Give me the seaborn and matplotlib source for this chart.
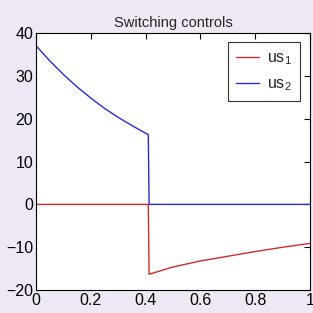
import matplotlib
matplotlib.use("Agg")
import matplotlib.pyplot as plt
import seaborn as sns
import pandas as pd

# data
t_us2 = [0.0, 0.05, 0.10, 0.15, 0.20, 0.25, 0.30, 0.35, 0.40, 0.41, 0.413, 0.6, 0.8, 1.0]
us2 = [37.0, 33.5, 30.3, 27.4, 24.8, 22.4, 20.3, 18.4, 16.6, 16.3, 0.0, 0.0, 0.0, 0.0]
t_us1 = [0.0, 0.2, 0.41, 0.413, 0.5, 0.6, 0.7, 0.8, 0.9, 1.0]
us1 = [0.0, 0.0, 0.0, -16.3, -14.6, -13.2, -12.1, -11.0, -10.0, -9.1]

title = "Switching controls"
labels = ["us$_1$", "us$_2$"]
xticks = [0, 0.2, 0.4, 0.6, 0.8, 1]
yticks = [-20, -10, 0, 10, 20, 30, 40]

sns.set_style("white")
plt.rcParams['font.family'] = ['Liberation Sans', 'DejaVu Sans']
plt.rcParams['mathtext.fontset'] = 'custom'
plt.rcParams['mathtext.rm'] = 'Liberation Sans'
plt.rcParams['mathtext.it'] = 'Liberation Sans'

fig = plt.figure(figsize=(3.13, 3.13), dpi=100)
fig.patch.set_facecolor("#EEE7F4")
ax = fig.add_axes([0.115, 0.073, 0.875, 0.822])

df1 = pd.DataFrame({"t": t_us1, "v": us1, "s": labels[0]})
df2 = pd.DataFrame({"t": t_us2, "v": us2, "s": labels[1]})
sns.lineplot(data=df1, x="t", y="v", color="#d42a2a", lw=1.0, sort=False,
             estimator=None, ax=ax, label=labels[0])
sns.lineplot(data=df2, x="t", y="v", color="#2a2ad4", lw=1.0, sort=False,
             estimator=None, ax=ax, label=labels[1])

ax.set_xlim(0, 1)
ax.set_ylim(-20, 40)
ax.set_xticks(xticks)
ax.set_xticklabels(["0", "0.2", "0.4", "0.6", "0.8", "1"])
ax.set_yticks(yticks)
ax.set_xlabel("")
ax.set_ylabel("")
ax.set_title(title, fontsize=10.5, pad=4)
ax.tick_params(direction="in", top=True, right=True, length=4, width=0.8,
               labelsize=11.5, pad=2, colors="black")
for sp in ax.spines.values():
    sp.set_color("black")
    sp.set_linewidth(0.8)

leg = ax.legend(loc="upper right", fontsize=11.5, frameon=True, fancybox=False,
                handlelength=1.5, handletextpad=0.5, borderaxespad=0.6,
                borderpad=0.5, labelspacing=0.6)
leg.get_frame().set_edgecolor("black")
leg.get_frame().set_linewidth(0.8)

fig.savefig("out.png", dpi=100, facecolor=fig.get_facecolor())
